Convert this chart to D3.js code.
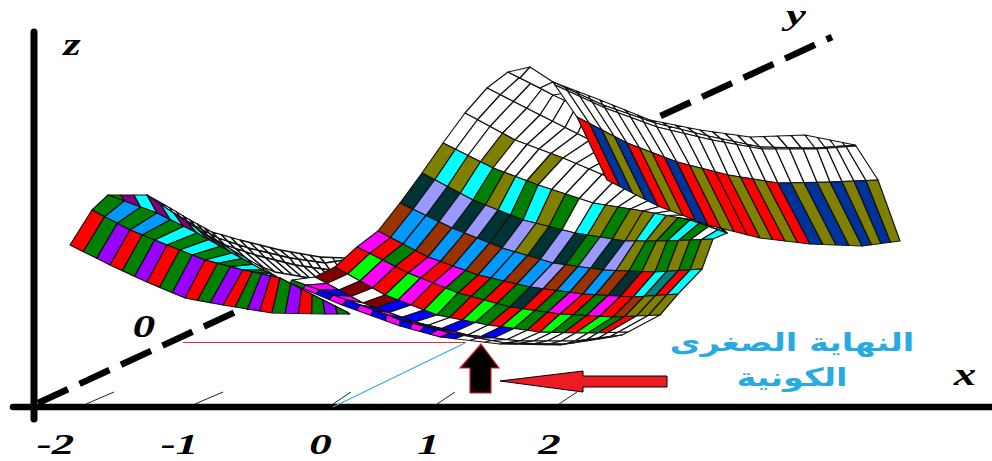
<!DOCTYPE html>
<html>
<head>
<meta charset="utf-8">
<script src="https://cdn.jsdelivr.net/npm/d3@7"></script>
<style>
html,body{margin:0;padding:0;background:#fff;overflow:hidden}
svg{display:block}
</style>
</head>
<body>
<script>
// Chart units: horizontal and height readings, in hundredths of a plot unit.
const xTickValues = [-2, -1, 0, 1, 2];
const axisLabels = [{t:"z", x:-248, z:352, f:32, sy:1}, {t:"y", x:476, z:382, f:24, sy:1.2}, {t:"0", x:-176, z:70, f:32, sy:1}, {t:"x", x:645, z:22, f:32, sy:1}];
const calloutLines = ["النهاية الصغرى", "الكونية"];

// Main sheet: boundaries between rows, sampled every 4 columns
const sheetKnots = [0, 4, 8, 12, 16, 20, 24];
const sheetRowX = [
  [188,233,280,320,360,390,407],
  [167,220,270,320,360,390,407],
  [145,195,243,295,345,385,407],
  [123,173,218,273,323,370,407],
  [102,153,203,255,305,347,393],
  [80,132,182,233,283,335,382],
  [58,108,158,210,263,313,358],
  [37,88,138,190,240,293,340],
  [15,65,117,168,220,268,308],
  [-5,43,95,148,200,255,302],
  [-28,27,80,130,185,245,296],
  [-30,22,80,120,180,240,292]
];
const sheetRowZ = [
  [335,312,290,267,227,192,174],
  [319,292,267,237,207,185,174],
  [294,267,249,227,202,182,174],
  [264,239,222,204,196,187,174],
  [234,207,187,174,166,166,168],
  [204,179,159,144,137,135,138],
  [176,150,132,120,113,110,113],
  [160,134,114,100,93,90,92],
  [140,112,92,82,75,74,75],
  [130,104,85,72,66,66,72],
  [127,107,87,74,64,63,71],
  [124,102,81,70,63,62,70]
];
const sheetCells = [
  "WWWWWWWWWWWWWWWWWWWWWWWW",
  "WWWWWWWWWWWWWWWWWWWWWWWW",
  "WWWOWWWOWWWWWWWWWWWWWWWW",
  "OCOCGOCGCOGWCOGOOCOGCGWC",
  "DLDLDLDDLODLDGLDLOGOGOGO",
  "BAABABABAABALBABABDRCTRC",
  "MRGRMRMGRGRGDRGMRGMRBOOO",
  "RNMRNMRNGRNGRNGRNGRNGRWW",
  "KWKWKUWUWWUWWUWWWWWWWWWW",
  "WMUMWUMUMUUMUMWWWWWWWWWW",
  "GMUMUMUMUMUMUWWWWWWWWWWW"
];

// Peak cap of the sheet
const peakKnots = [0, 1, 2, 3];
const peakRowX = [[188,210,233,253],[188,200,220,233]];
const peakRowZ = [[335,340,325,315],[335,329,319,312]];
const peakCells = ["WWW"];

// Right-hand fold
const foldKnots = [0, 4, 8, 12, 16, 20, 24];
const foldRowX = [
  [233,280,330,380,430,485,535],
  [233,283,335,388,440,495,535],
  [235,285,337,392,442,497,536],
  [257,307,357,408,458,510,558],
  [287,338,388,440,490,542,580]
];
const foldRowZ = [
  [325,307,287,277,270,272,262],
  [325,302,284,271,260,259,262],
  [322,299,280,267,258,258,261],
  [290,264,245,232,224,225,227],
  [227,201,182,169,163,161,166]
];
const foldCells = [
  "WWWWWWWWWWWWWWWWWWWWWWWW",
  "WWWWWWWWWWWWWWWWWWWWWWWW",
  "WWWWWWWWWWWWWWWWWWWWWWWW",
  "RYOYRORYRORRORORYOYOYOYO"
];

// Left hump
const leftKnots = [0, 3, 6, 9, 12, 16, 20, 22];
const leftRowX = [
  [-212,-173,-133,-105,-57,-30,5,28],
  [-212,-163,-123,-88,-57,-30,5,28],
  [-228,-190,-153,-115,-77,-40,3,27],
  [-250,-210,-173,-135,-97,-48,5,30]
];
const leftRowZ = [
  [212,212,185,167,139,122,104,93],
  [212,194,174,154,137,122,104,93],
  [197,177,162,147,137,129,107,95],
  [162,142,125,109,102,94,93,93]
];
const leftCells = [
  "GPCPCPCPCCCWWWWWWWWWWW",
  "GAGAGCGCGCGCGCGGGGGGGG",
  "RGVRGVRGVRGVRGVRGVRGVG"
];

// Hatched far side of the left hump
const hatchRowX = [
  [-173,-150,-130,-108,-80,-40,0,25],
  [-173,-148,-125,-102,-72,-30,5,25],
  [-172,-145,-122,-95,-65,-25,10,25],
  [-170,-142,-115,-80,-45,-10,15,25]
];
const hatchRowZ = [
  [212,199,187,175,167,157,150,149],
  [210,195,181,169,159,149,144,147],
  [209,192,177,162,152,142,137,145],
  [207,189,171,149,135,129,132,142]
];
const hatchCells = [
  "WWWWWWWWWWWWWWWWWWWWWW",
  "WWWWWWWWWWWWWWWWWWWWWW",
  "WWWWWWWWWWWWWWWWWWWWWW"
];

const palette = {W:"#ffffff",O:"#808000",C:"#00ffff",G:"#008000",D:"#003333",L:"#9999ff",B:"#993300",
  A:"#0099ff",M:"#ff00ff",R:"#ff0000",N:"#00ff00",K:"#800000",U:"#0000ff",T:"#008080",V:"#9900ff",Y:"#003399",P:"#800080"};

const W = 992, H = 461;
const sx = d3.scaleLinear().domain([-320, 672]).range([0, W]);
const sz = d3.scaleLinear().domain([0, 407]).range([407, 0]);
const labelScale = d3.scaleLinear().domain(xTickValues).range([55, 179, 320, 428, 549]);
const tickBase = d3.scaleLinear().domain(xTickValues).range([86, 195, 333, 437, 559]);

const svg = d3.select("body").append("svg").attr("width", W).attr("height", H);
const line = d3.line();
const serif = "'Liberation Serif', serif";

// y axis, dashed, behind the surface
svg.append("line").attr("x1", sx(-282)).attr("y1", sz(4)).attr("x2", sx(512)).attr("y2", sz(370))
  .attr("stroke", "#000").attr("stroke-width", 6.5).attr("stroke-dasharray", "33 12.7");

// small floor ticks
svg.selectAll("line.tick").data(xTickValues).join("line").attr("class", "tick")
  .attr("x1", d => tickBase(d)).attr("y1", 404)
  .attr("x2", d => tickBase(d) + (d < 0 ? 28 : 18)).attr("y2", 392)
  .attr("stroke", "#222").attr("stroke-width", 1);

function patch(knots, rowX, rowZ, cells, sw) {
  const xs = rowX.map(r => d3.scaleLinear().domain(knots).range(r));
  const zs = rowZ.map(r => d3.scaleLinear().domain(knots).range(r));
  const polys = [];
  cells.forEach((row, j) => {
    d3.range(row.length).forEach(i => {
      const c = [[j, i], [j, i + 1], [j + 1, i + 1], [j + 1, i]];
      polys.push({ pts: c.map(([a, b]) => [sx(xs[a](b)), sz(zs[a](b))]), key: row[i] });
    });
  });
  svg.append("g").selectAll("path").data(polys).join("path")
    .attr("d", d => line(d.pts) + "Z")
    .attr("fill", d => palette[d.key])
    .attr("stroke", "#111").attr("stroke-width", sw).attr("stroke-linejoin", "round");
}

patch(leftKnots, hatchRowX, hatchRowZ, hatchCells, 1.3);
patch(leftKnots, leftRowX, leftRowZ, leftCells, 1.2);
patch(sheetKnots, sheetRowX, sheetRowZ, sheetCells, 1.2);
patch(peakKnots, peakRowX, peakRowZ, peakCells, 1.2);
patch(foldKnots, foldRowX, foldRowZ, foldCells, 1.2);

// axes
svg.append("line").attr("x1", 13).attr("y1", 407).attr("x2", W).attr("y2", 407)
  .attr("stroke", "#000").attr("stroke-width", 6.5).attr("stroke-linecap", "round");
svg.append("line").attr("x1", 34).attr("y1", 32).attr("x2", 34).attr("y2", 419)
  .attr("stroke", "#000").attr("stroke-width", 7).attr("stroke-linecap", "round");

// guide lines to the minimum
svg.append("line").attr("x1", 183).attr("y1", 342.5).attr("x2", 466).attr("y2", 342.5)
  .attr("stroke", "#e03040").attr("stroke-width", 1);
svg.append("line").attr("x1", 333).attr("y1", 407).attr("x2", 465).attr("y2", 343)
  .attr("stroke", "#29abe2").attr("stroke-width", 1.1);

// arrows
svg.append("path").attr("d", "M481,344L499,368H491V393H470V368H460Z")
  .attr("fill", "#000").attr("stroke", "#ed1c24").attr("stroke-width", 1.2);
svg.append("path").attr("d", "M500,381L583,371V376H667V387H583V392Z")
  .attr("fill", "#ed1c24").attr("stroke", "#000").attr("stroke-width", 1);

// tick labels through a d3 axis
const axisG = svg.append("g").attr("transform", "translate(0,434)")
  .call(d3.axisBottom(labelScale).tickValues(xTickValues).tickSize(0).tickPadding(0).tickFormat(d => String(d)));
axisG.select(".domain").remove();
axisG.selectAll("text").attr("font-family", serif).attr("font-size", 30).attr("font-weight", "bold")
  .attr("font-style", "italic").attr("fill", "#000").attr("dy", "0").attr("y", 0)
  .attr("transform", "translate(0,20) scale(1.5,1)");

svg.selectAll("text.lab").data(axisLabels).join("text").attr("class", "lab")
  .attr("transform", d => `translate(${sx(d.x)},${sz(d.z)}) scale(${1.4 * 32 / d.f},${d.sy})`).attr("text-anchor", "middle")
  .attr("font-family", serif).attr("font-size", d => d.f).attr("font-weight", "bold").attr("font-style", "italic")
  .attr("fill", "#000").text(d => d.t);

svg.selectAll("text.call").data(calloutLines).join("text").attr("class", "call")
  .attr("transform", (d, i) => `translate(792,${351 + i * 35}) scale(1.34,1)`).attr("text-anchor", "middle").attr("direction", "rtl")
  .attr("font-family", "'DejaVu Sans', sans-serif").attr("font-size", 25).attr("font-weight", "bold")
  .attr("fill", "#29abe2").text(d => d);
</script>
</body>
</html>
